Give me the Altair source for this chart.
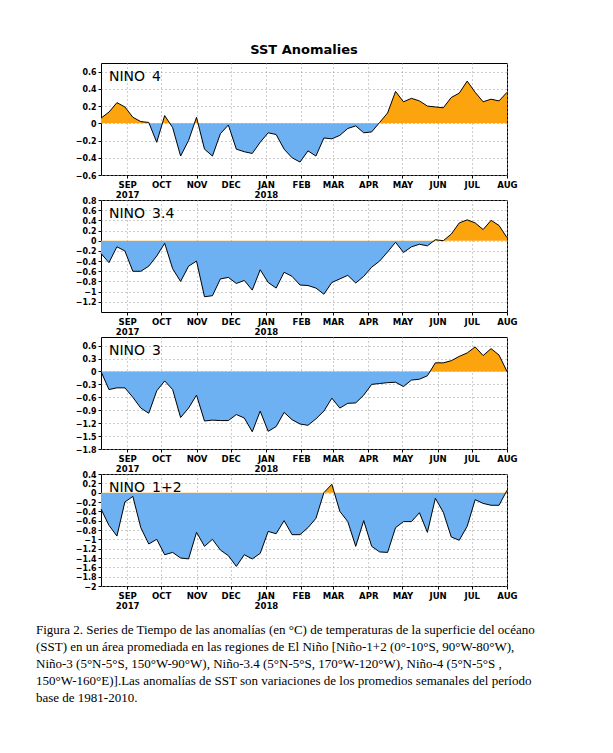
import altair as alt
import pandas as pd

# weekly time axis (Wednesday-centred weeks)
weeks = pd.date_range("2017-08-09", periods=52, freq="7D").strftime("%Y-%m-%d").tolist()

nino4 = [0.06, 0.13, 0.24, 0.19, 0.07, 0.02, 0.01, -0.22, 0.09, -0.05,
         -0.38, -0.2, 0.07, -0.3, -0.38, -0.12, -0.02, -0.3, -0.33, -0.35,
         -0.22, -0.11, -0.13, -0.3, -0.4, -0.45, -0.32, -0.38, -0.17, -0.18,
         -0.14, -0.06, -0.03, -0.11, -0.1, 0.01, 0.12, 0.37, 0.25, 0.29,
         0.26, 0.2, 0.19, 0.18, 0.3, 0.35, 0.49, 0.36, 0.25, 0.28,
         0.26, 0.36]
nino34 = [-0.25, -0.43, -0.12, -0.2, -0.6, -0.6, -0.5, -0.3, -0.05, -0.55,
          -0.8, -0.5, -0.4, -1.1, -1.08, -0.75, -0.72, -0.84, -0.78, -0.97,
          -0.57, -0.82, -0.93, -0.62, -0.7, -0.87, -0.88, -0.93, -1.05, -0.82,
          -0.75, -0.68, -0.83, -0.7, -0.52, -0.4, -0.22, -0.03, -0.23, -0.12,
          -0.07, -0.1, 0.02, 0.0, 0.13, 0.35, 0.41, 0.35, 0.22, 0.4,
          0.3, 0.06]
nino3 = [0.0, -0.42, -0.38, -0.38, -0.6, -0.85, -0.97, -0.45, -0.22, -0.42,
         -1.07, -0.85, -0.55, -1.15, -1.13, -1.14, -1.14, -1.0, -1.08, -1.4,
         -0.92, -1.39, -1.28, -0.95, -1.12, -1.22, -1.25, -1.1, -0.92, -0.62,
         -0.85, -0.74, -0.73, -0.55, -0.3, -0.28, -0.26, -0.25, -0.35, -0.2,
         -0.18, -0.1, 0.2, 0.2, 0.25, 0.35, 0.43, 0.57, 0.37, 0.53,
         0.38, 0.0]
nino12 = [-0.35, -0.7, -0.93, -0.2, -0.08, -0.75, -1.1, -1.0, -1.33, -1.28,
          -1.4, -1.42, -0.85, -1.15, -1.0, -1.23, -1.35, -1.58, -1.33, -1.42,
          -1.3, -0.83, -0.88, -0.6, -0.9, -0.9, -0.75, -0.55, 0.0, 0.18,
          -0.4, -0.62, -1.15, -0.6, -1.15, -1.27, -1.28, -0.75, -0.62, -0.62,
          -0.43, -0.85, -0.12, -0.42, -0.95, -1.02, -0.72, -0.15, -0.23, -0.27,
          -0.27, 0.05]

y4_ticks = [-0.6, -0.4, -0.2, 0, 0.2, 0.4, 0.6]
y34_ticks = [-1.2, -1.0, -0.8, -0.6, -0.4, -0.2, 0, 0.2, 0.4, 0.6, 0.8]
y3_ticks = [-1.8, -1.5, -1.2, -0.9, -0.6, -0.3, 0, 0.3, 0.6]
y12_ticks = [-2.0, -1.8, -1.6, -1.4, -1.2, -1.0, -0.8, -0.6, -0.4, -0.2, 0, 0.2, 0.4]

month_ticks = [(2017, 9), (2017, 10), (2017, 11), (2017, 12), (2018, 1), (2018, 2),
               (2018, 3), (2018, 4), (2018, 5), (2018, 6), (2018, 7), (2018, 8)]

caption = [
    "Figura 2. Series de Tiempo de las anomalías (en °C) de temperaturas de la superficie del océano",
    "(SST) en un área promediada en las regiones de El Niño [Niño-1+2 (0°-10°S, 90°W-80°W),",
    "Niño-3 (5°N-5°S, 150°W-90°W), Niño-3.4 (5°N-5°S, 170°W-120°W), Niño-4 (5°N-5°S ,",
    "150°W-160°E)].Las anomalías de SST son variaciones de los promedios semanales del período",
    "base de 1981-2010.",
]

ORANGE = "#FCA40E"
BLUE = "#6DB1F2"
AXFONT = "Liberation Sans Narrow, DejaVu Sans Condensed, Liberation Sans, sans-serif"
W, H = 406, 112


def dt(y, m, d=1):
    return alt.DateTime(year=y, month=m, date=d, utc=True)


label_expr = ("(utcmonth(datum.value) == 8 || utcmonth(datum.value) == 0) ? "
              "[upper(utcFormat(datum.value, '%b')), utcFormat(datum.value, '%Y')] : "
              "upper(utcFormat(datum.value, '%b'))")


def panel(name, values, ydom, yticks, title=None):
    df = pd.DataFrame({"week": weeks, "anom": values})
    top = max(max(values), 0)
    bot = min(min(values), 0)
    off = top / (top - bot)
    grad = alt.Gradient(
        gradient="linear", x1=0, x2=0, y1=0, y2=1,
        stops=[alt.GradientStop(color=ORANGE, offset=0),
               alt.GradientStop(color=ORANGE, offset=off),
               alt.GradientStop(color=BLUE, offset=off),
               alt.GradientStop(color=BLUE, offset=1)])
    x = alt.X("week:T",
              scale=alt.Scale(type="utc", domain=[dt(2017, 8, 9), dt(2018, 8, 1)]),
              axis=alt.Axis(values=[dt(y, m) for y, m in month_ticks], title=None,
                            labelExpr=label_expr, grid=True, labelLineHeight=10,
                            labelFontSize=9.5, labelPadding=1, labelFlush=False,
                            labelOverlap=False))
    y = alt.Y("anom:Q", scale=alt.Scale(domain=ydom, nice=False, zero=False),
              axis=alt.Axis(values=yticks, format=".1~f", title=None, grid=True,
                            labelFontSize=8.8, labelPadding=2, labelOverlap=False,
                            labelFlush=False))
    base = alt.Chart(df)
    area = base.mark_area(color=grad, interpolate="linear").encode(x=x, y=y, y2=alt.datum(0))
    line = base.mark_line(color="black", strokeWidth=1).encode(x=x, y=y)
    lab = alt.Chart(pd.DataFrame({"name": [name]})).mark_text(
        align="left", baseline="top", font="DejaVu Sans", fontSize=14, color="black"
    ).encode(x=alt.value(8), y=alt.value(7), text="name:N")
    ch = alt.layer(area, line, lab).properties(width=W, height=H)
    if title:
        ch = ch.properties(title=alt.TitleParams(
            text=title, font="DejaVu Sans", fontSize=13, fontWeight="bold",
            anchor="middle", frame="group", offset=6, color="black"))
    return ch


p1 = panel("NINO\u20024", nino4, [-0.6, 0.7], y4_ticks, title="SST Anomalies")
p2 = panel("NINO\u20023.4", nino34, [-1.4, 0.8], y34_ticks)
p3 = panel("NINO\u20023", nino3, [-1.8, 0.8], y3_ticks)
p4 = panel("NINO\u20021+2", nino12, [-2.0, 0.4], y12_ticks)

chart = alt.vconcat(
    p1, p2, p3, p4, spacing=25, bounds="flush",
    title=alt.TitleParams(text=caption, orient="bottom", anchor="start", frame="group",
                          dx=-65, offset=14, font="Liberation Serif", fontSize=13,
                          fontWeight="normal", lineHeight=17, color="black"),
).properties(
    padding={"left": 28, "top": 35, "right": 5, "bottom": 5}
).configure_view(
    stroke="black", strokeWidth=1
).configure_axis(
    labelFont=AXFONT, labelFontWeight="bold", labelColor="black",
    domain=False, tickColor="black", tickSize=3, tickWidth=1,
    gridColor="#9a9a9a", gridDash=[1, 3], gridWidth=1
)

chart.save("out.html", embed_options={"renderer": "svg", "actions": False})
